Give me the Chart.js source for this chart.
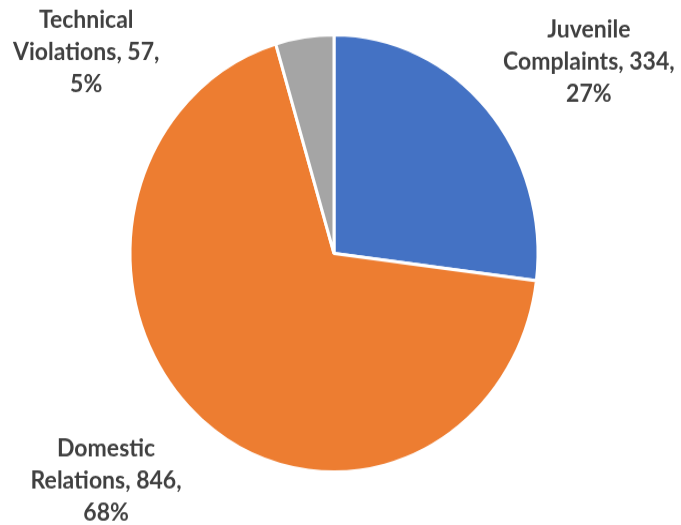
<!DOCTYPE html>
<html>
<head>
<meta charset="utf-8">
<script src="https://cdn.jsdelivr.net/npm/chart.js@4/dist/chart.umd.min.js"></script>
<style>
  html, body { margin: 0; padding: 0; background: #fff; }
  body { width: 681px; height: 525px; overflow: hidden; }
  #wrap { width: 681px; height: 490px; transform: scaleY(1.0714); transform-origin: 0 0; }
  canvas { display: block; }
</style>
</head>
<body>
<div id="wrap"><canvas id="c" width="681" height="490"></canvas></div>
<script>
// Case categories (two label lines each) and counts
const categories = [['Juvenile', 'Complaints'], ['Domestic', 'Relations'], ['Technical', 'Violations']];
const counts = [334, 846, 57];
const sliceColors = ['#4472C4', '#ED7D31', '#A5A5A5'];

// Outside labels: "Name, count, percent" placed beyond each slice
const sliceLabels = {
  id: 'sliceLabels',
  afterDatasetsDraw(chart, args, opts) {
    const ctx = chart.ctx;
    const meta = chart.getDatasetMeta(0);
    const values = chart.data.datasets[0].data;
    const total = values.reduce((a, b) => a + b, 0);
    ctx.save();
    ctx.font = opts.font;
    ctx.fillStyle = opts.color;
    ctx.textAlign = 'center';
    ctx.textBaseline = 'middle';
    meta.data.forEach((arc, i) => {
      const p = arc.getProps(['x', 'y', 'startAngle', 'endAngle', 'outerRadius'], true);
      const ang = (p.startAngle + p.endAngle) / 2 + (opts.angleShift[i] || 0) * Math.PI / 180;
      const d = p.outerRadius * opts.distance;
      const cx = p.x + Math.cos(ang) * d;
      const cy = p.y + Math.sin(ang) * d;
      const name = chart.data.labels[i];
      const pct = Math.round(values[i] / total * 100);
      const lines = [name[0], name[1] + ', ' + values[i] + ',', pct + '%'];
      lines.forEach((t, k) => {
        ctx.fillText(t, cx, cy + (k - (lines.length - 1) / 2) * opts.lineHeight);
      });
    });
    ctx.restore();
  }
};

new Chart(document.getElementById('c'), {
  type: 'pie',
  data: {
    labels: categories,
    datasets: [{
      data: counts,
      backgroundColor: sliceColors,
      borderColor: '#ffffff',
      borderWidth: 3
    }]
  },
  options: {
    responsive: false,
    animation: false,
    devicePixelRatio: 1,
    radius: 204,
    layout: { padding: { left: 0, right: 13, top: 0, bottom: 17 } },
    plugins: {
      legend: { display: false },
      tooltip: { enabled: false },
      sliceLabels: {
        font: 'bold 23px Lato',
        color: '#404040',
        lineHeight: 30,
        distance: 1.525,
        angleShift: [6.4, 6.8, -44.5]
      }
    }
  },
  plugins: [sliceLabels]
});
</script>
</body>
</html>
